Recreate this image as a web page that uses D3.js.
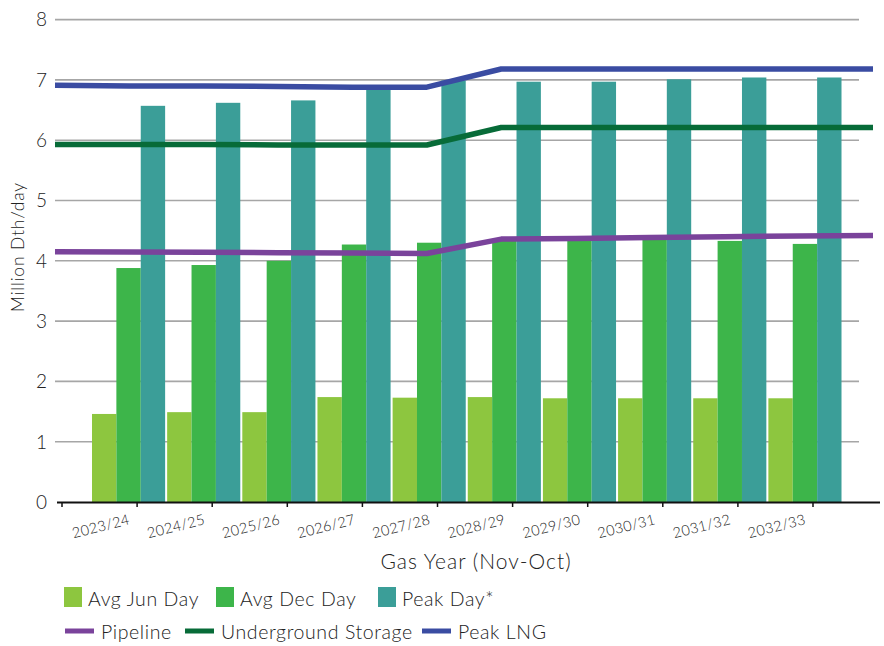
<!DOCTYPE html>
<html>
<head>
<meta charset="utf-8">
<script src="https://cdn.jsdelivr.net/npm/d3@7"></script>
<style>
  html, body { margin: 0; padding: 0; background: #fff; }
  svg { display: block; font-family: Lato, "Open Sans", sans-serif; font-weight: 300; }
</style>
</head>
<body>
<svg id="chart" width="884" height="646"></svg>
<script>
// Gas years shown on the category axis
const years = ["2023/24","2024/25","2025/26","2026/27","2027/28","2028/29","2029/30","2030/31","2031/32","2032/33"];

// Demand bars (Million Dth/day)
const avgJun  = [1.46, 1.49, 1.49, 1.74, 1.73, 1.74, 1.72, 1.72, 1.72, 1.72];
const avgDec  = [3.88, 3.93, 4.00, 4.27, 4.30, 4.35, 4.35, 4.36, 4.33, 4.28];
const peakDay = [6.57, 6.62, 6.66, 6.88, 6.99, 6.97, 6.97, 7.01, 7.04, 7.04];

// Cumulative supply lines, plotted on their own 12-step axis
const lineSteps = [0, 1, 2, 3, 4, 5, 6, 7, 8, 9, 10, 11];
const pipeline  = [4.15, 4.145, 4.14, 4.135, 4.13, 4.12, 4.36, 4.37, 4.385, 4.40, 4.41, 4.42];
const storage   = [5.93, 5.93, 5.93, 5.92, 5.92, 5.92, 6.21, 6.21, 6.21, 6.21, 6.21, 6.21];
const peakLng   = [6.91, 6.90, 6.90, 6.89, 6.88, 6.88, 7.18, 7.18, 7.18, 7.18, 7.18, 7.18];

const yTicks = [0, 1, 2, 3, 4, 5, 6, 7, 8];

const barSeries = [
  { name: "Avg Jun Day", values: avgJun,  color: "#8dc63f" },
  { name: "Avg Dec Day", values: avgDec,  color: "#3db54a" },
  { name: "Peak Day*",   values: peakDay, color: "#3b9e98" }
];
const lineSeries = [
  { name: "Pipeline",            values: pipeline, color: "#7a439b" },
  { name: "Underground Storage", values: storage,  color: "#076b38" },
  { name: "Peak LNG",            values: peakLng,  color: "#3a4ca2" }
];

const svg = d3.select("#chart");
const textColor = "#222";

// Scales
const y = d3.scaleLinear().domain([0, 8]).range([502, 19.6]);
const xAxisBand = d3.scaleBand().domain(years).range([62, 813]);
const xBars = d3.scaleBand().domain(years).range([92, 841.5]).paddingInner(0.027);
const xSub = d3.scaleBand().domain(barSeries.map(s => s.name)).range([0, xBars.bandwidth()]);
const xLine = d3.scalePoint().domain(lineSteps).range([55, 873]);

// Horizontal gridlines
svg.append("g")
  .selectAll("line")
  .data(yTicks.filter(t => t > 0))
  .join("line")
  .attr("x1", 55).attr("x2", 859)
  .attr("y1", d => y(d)).attr("y2", d => y(d))
  .attr("stroke", "#a6a6a6")
  .attr("stroke-width", 1.6);

// Y tick labels
svg.append("g")
  .selectAll("text")
  .data(yTicks)
  .join("text")
  .attr("x", 47)
  .attr("y", d => y(d))
  .attr("dy", "0.36em")
  .attr("text-anchor", "end")
  .attr("font-size", 19)
  .attr("fill", textColor)
  .text(d => d);

// Y axis title
svg.append("text")
  .attr("transform", "translate(24,247) rotate(-90)")
  .attr("text-anchor", "middle")
  .attr("font-size", 17.5)
  .attr("letter-spacing", 0.8)
  .attr("fill", textColor)
  .text("Million Dth/day");

// Bars
const groups = svg.append("g")
  .selectAll("g")
  .data(years)
  .join("g")
  .attr("transform", d => `translate(${xBars(d)},0)`);

groups.selectAll("rect")
  .data((d, i) => barSeries.map(s => ({ series: s, value: s.values[i] })))
  .join("rect")
  .attr("x", d => xSub(d.series.name))
  .attr("width", xSub.bandwidth())
  .attr("y", d => y(d.value))
  .attr("height", d => y(0) - y(d.value))
  .attr("fill", d => d.series.color);

// Category axis line and ticks
const axis = svg.append("g");
axis.append("line")
  .attr("x1", 57).attr("x2", 880)
  .attr("y1", y(0) + 0.5).attr("y2", y(0) + 0.5)
  .attr("stroke", "#111")
  .attr("stroke-width", 1.8);
const tickPos = years.map(d => xAxisBand(d)).concat([xAxisBand(years[years.length - 1]) + xAxisBand.bandwidth()]);
axis.selectAll("line.tick")
  .data(tickPos)
  .join("line")
  .attr("class", "tick")
  .attr("x1", d => d).attr("x2", d => d)
  .attr("y1", y(0)).attr("y2", y(0) + 5)
  .attr("stroke", "#111")
  .attr("stroke-width", 1.5);

axis.selectAll("text")
  .data(years)
  .join("text")
  .attr("transform", d => `translate(${xAxisBand(d) + xAxisBand.bandwidth() / 2 + 31},524) rotate(-14)`)
  .attr("text-anchor", "end")
  .attr("font-size", 14.5)
  .attr("letter-spacing", 0.3)
  .attr("fill", textColor)
  .text(d => d);

// X axis title
svg.append("text")
  .attr("x", 476)
  .attr("y", 569)
  .attr("text-anchor", "middle")
  .attr("font-size", 21)
  .attr("letter-spacing", 1)
  .attr("fill", textColor)
  .text("Gas Year (Nov-Oct)");

// Supply lines
const lineGen = d3.line()
  .x((d, i) => xLine(lineSteps[i]))
  .y(d => y(d));

svg.append("g")
  .selectAll("path")
  .data(lineSeries)
  .join("path")
  .attr("d", d => lineGen(d.values))
  .attr("fill", "none")
  .attr("stroke", d => d.color)
  .attr("stroke-width", 5.5)
  .attr("stroke-linejoin", "round");

// Legend
const legend = svg.append("g").attr("font-size", 19.5).attr("letter-spacing", 0.6).attr("fill", textColor);
const barLegendX = [64, 216, 378];
barSeries.forEach((s, i) => {
  legend.append("rect")
    .attr("x", barLegendX[i]).attr("y", 587)
    .attr("width", 18).attr("height", 20)
    .attr("fill", s.color);
  legend.append("text")
    .attr("x", barLegendX[i] + 24).attr("y", 606)
    .text(s.name);
});
const lineLegendX = [65, 185, 422];
lineSeries.forEach((s, i) => {
  legend.append("line")
    .attr("x1", lineLegendX[i]).attr("x2", lineLegendX[i] + 29)
    .attr("y1", 631).attr("y2", 631)
    .attr("stroke", s.color)
    .attr("stroke-width", 5);
  legend.append("text")
    .attr("x", lineLegendX[i] + 36).attr("y", 639)
    .text(s.name);
});
</script>
</body>
</html>
